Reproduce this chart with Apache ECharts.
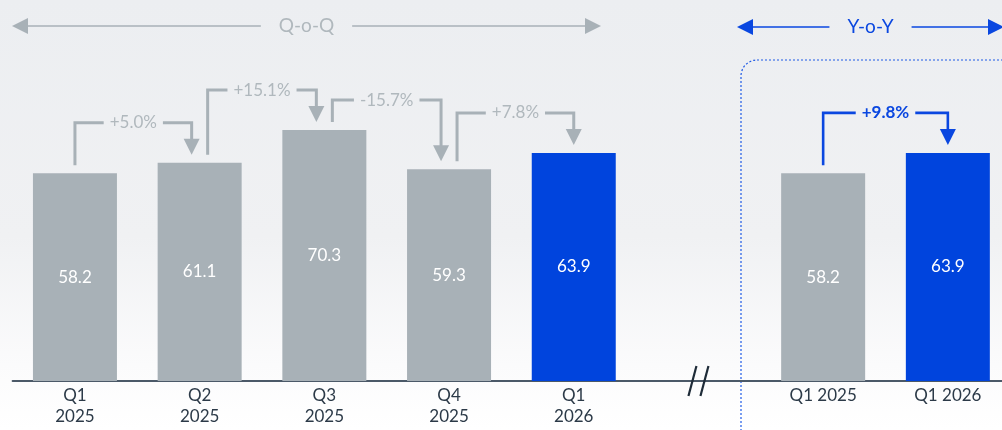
<!DOCTYPE html>
<html><head><meta charset="utf-8">
<script src="https://cdn.jsdelivr.net/npm/echarts@6/dist/echarts.min.js"></script>
<style>
html,body{margin:0;padding:0;background:#fff;}
#c{width:1002px;height:430px;background:linear-gradient(180deg,#eceef1 0%,#f0f1f3 55%,#fbfbfc 85%,#ffffff 100%);}
</style>
</head><body><div id="c"></div>
<script>
// ---- data ----
const categories = ['Q1\n2025','Q2\n2025','Q3\n2025','Q4\n2025','Q1\n2026','','Q1 2025','Q1 2026'];
const values = [58.2, 61.1, 70.3, 59.3, 63.9, null, 58.2, 63.9];
const highlighted = [false, false, false, false, true, false, false, true];
const changeFrom = [0, 1, 2, 3, 6];
const changeTo = [1, 2, 3, 4, 7];
const changeLabels = ['+5.0%', '+15.1%', '-15.7%', '+7.8%', '+9.8%'];
const changeKind = ['qoq', 'qoq', 'qoq', 'qoq', 'yoy'];
const breakIndex = 5;
const headerQoQ = 'Q-o-Q';
const headerYoY = 'Y-o-Y';

// ---- style ----
const FONT = 'Lato, "Open Sans", sans-serif';
const GRAY = '#a8b1b7';
const GRAY_TEXT = '#b0b8bd';
const BLUE = '#0044dd';
const BLUE_LINE = '#0a47e0';
const DARK = '#2c3a48';

const measureCtx = document.createElement('canvas').getContext('2d');
function textWidth(t, font) { measureCtx.font = font; return measureCtx.measureText(t).width; }

const chart = echarts.init(document.getElementById('c'), null, {renderer: 'canvas'});

const changeData = changeFrom.map((f, k) => [f, values[f], changeTo[k], values[changeTo[k]], k]);

function renderChange(params, api) {
  const k = api.value(4);
  const f = api.value(0), t = api.value(2);
  const vf = api.value(1), vt = api.value(3);
  const p0 = api.coord([f, vf]);
  const p1 = api.coord([t, vt]);
  const yoy = changeKind[k] === 'yoy';
  const color = yoy ? BLUE_LINE : GRAY;
  const lw = yoy ? 2.6 : 3;
  const depOff = changeTo.indexOf(f) >= 0 ? 8 : 0;
  const arrOff = changeFrom.indexOf(t) >= 0 ? -8 : 0;
  const x0 = p0[0] + depOff, x1 = p1[0] + arrOff;
  const yStart = p0[1] - 8, tipY = p1[1] - 8;
  const level = Math.min(p0[1], p1[1]) - (vt < vf ? 30 : 40);
  const font = (yoy ? 'bold ' : '') + '17px ' + FONT;
  const tw = textWidth(changeLabels[k], font);
  const mid = (x0 + x1) / 2;
  const gap = tw / 2 + 6;
  const ah = 16, aw = 8;
  return {
    type: 'group',
    children: [
      {type: 'polyline', shape: {points: [[x0, yStart], [x0, level], [mid - gap, level]]},
       style: {stroke: color, lineWidth: lw, fill: null, lineJoin: 'miter'}},
      {type: 'polyline', shape: {points: [[mid + gap, level], [x1, level], [x1, tipY - ah + 1]]},
       style: {stroke: color, lineWidth: lw, fill: null, lineJoin: 'miter'}},
      {type: 'polygon', shape: {points: [[x1 - aw, tipY - ah], [x1 + aw, tipY - ah], [x1, tipY]]},
       style: {fill: color}},
      {type: 'text', x: mid, y: level,
       style: {text: changeLabels[k], fill: yoy ? BLUE_LINE : GRAY_TEXT, font: font,
               align: 'center', verticalAlign: 'middle'}}
    ]
  };
}

function renderBreak(params, api) {
  const p = api.coord([api.value(0), 0]);
  const x = p[0], y = p[1];
  return {
    type: 'group',
    children: [
      {type: 'line', shape: {x1: x - 2, y1: y - 15, x2: x - 10, y2: y + 15}, style: {stroke: '#1e2b38', lineWidth: 2.2}},
      {type: 'line', shape: {x1: x + 10, y1: y - 15, x2: x + 2, y2: y + 15}, style: {stroke: '#1e2b38', lineWidth: 2.2}}
    ]
  };
}

function headerArrow(x1, x2, y, text, color, textColor) {
  const font = '19px ' + FONT;
  const tw = textWidth(text, font);
  const mid = (x1 + x2) / 2;
  const gap = tw / 2 + 18;
  const ah = 16, aw = 8;
  return [
    {type: 'line', shape: {x1: x1 + ah - 1, y1: y, x2: mid - gap, y2: y}, style: {stroke: color, lineWidth: 1.6}},
    {type: 'line', shape: {x1: mid + gap, y1: y, x2: x2 - ah + 1, y2: y}, style: {stroke: color, lineWidth: 1.6}},
    {type: 'polygon', shape: {points: [[x1, y], [x1 + ah, y - aw], [x1 + ah, y + aw]]}, style: {fill: color}},
    {type: 'polygon', shape: {points: [[x2, y], [x2 - ah, y - aw], [x2 - ah, y + aw]]}, style: {fill: color}},
    {type: 'text', x: mid, y: y, style: {text: text, fill: textColor, font: font, align: 'center', verticalAlign: 'middle'}}
  ];
}

const option = {
  backgroundColor: 'transparent',
  animation: false,
  grid: {left: 12.6, top: 24, width: 997.6, height: 357, outerBoundsMode: 'none', containLabel: false},
  xAxis: {
    type: 'category',
    data: categories,
    axisLine: {lineStyle: {color: '#4b5968', width: 2}},
    axisTick: {show: false},
    axisLabel: {interval: 0, color: DARK, fontFamily: FONT, fontSize: 17, lineHeight: 21, margin: 4}
  },
  yAxis: {type: 'value', min: 0, max: 100, show: false, splitLine: {show: false}},
  graphic: [
    ...headerArrow(12, 601, 26, headerQoQ, GRAY, GRAY_TEXT),
    ...headerArrow(737, 1004, 27, headerYoY, BLUE_LINE, BLUE_LINE),
    {type: 'rect', shape: {x: 741, y: 60, width: 300, height: 420, r: 16},
     style: {fill: null, stroke: '#1f5ae6', lineWidth: 1.2, lineDash: [2, 2]}, z: -1}
  ],
  series: [
    {
      type: 'bar',
      data: values.map((v, i) => ({value: v, itemStyle: {color: highlighted[i] ? BLUE : GRAY}})),
      barWidth: 84,
      label: {show: true, position: 'inside', color: '#ffffff', fontFamily: FONT, fontSize: 17}
    },
    {
      type: 'custom',
      data: changeData,
      encode: {x: [0, 2], y: [1, 3]},
      renderItem: renderChange,
      clip: false,
      z: 5
    },
    {
      type: 'custom',
      data: [[breakIndex, 0]],
      encode: {x: 0, y: 1},
      renderItem: renderBreak,
      clip: false,
      z: 6
    }
  ]
};
chart.setOption(option);
</script>
</body></html>
